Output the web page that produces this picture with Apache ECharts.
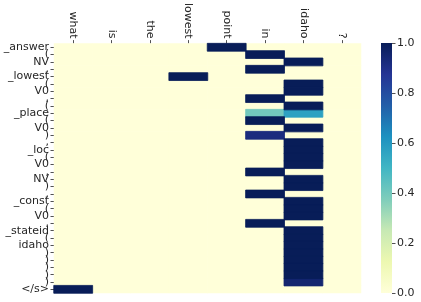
<!DOCTYPE html>
<html>
<head>
<meta charset="utf-8">
<script src="https://cdn.jsdelivr.net/npm/echarts@6/dist/echarts.min.js"></script>
<style>html,body{margin:0;padding:0;background:#fff}#c{width:421px;height:302px}</style>
</head>
<body>
<div id="c"></div>
<script>
const sourceTokens = ['what', 'is', 'the', 'lowest', 'point', 'in', 'idaho', '?'];
const targetTokens = ['_answer', '(', 'NV', ',', '_lowest', '(', 'V0', ',', '(', '_place', '(', 'V0', ')', ',',
  '_loc', '(', 'V0', ',', 'NV', ')', ',', '_const', '(', 'V0', ',', '_stateid', '(', 'idaho', ')', ')', ')', ')', ')', '</s>'];
// attention weights: one row per target token, columns follow sourceTokens
const attention = [
  [0, 0, 0, 0, 1, 0, 0, 0],
  [0, 0, 0, 0, 0, 1, 0, 0],
  [0, 0, 0, 0, 0, 0, 1, 0],
  [0, 0, 0, 0, 0, 1, 0, 0],
  [0, 0, 0, 1, 0, 0, 0, 0],
  [0, 0, 0, 0, 0, 0, 1, 0],
  [0, 0, 0, 0, 0, 0, 1, 0],
  [0, 0, 0, 0, 0, 1, 0, 0],
  [0, 0, 0, 0, 0, 0, 1, 0],
  [0, 0, 0, 0, 0, 0.40, 0.57, 0],
  [0, 0, 0, 0, 0, 1, 0, 0],
  [0, 0, 0, 0, 0, 0, 1, 0],
  [0, 0, 0, 0, 0, 0.92, 0, 0],
  [0, 0, 0, 0, 0, 0, 1, 0],
  [0, 0, 0, 0, 0, 0, 1, 0],
  [0, 0, 0, 0, 0, 0, 1, 0],
  [0, 0, 0, 0, 0, 0, 1, 0],
  [0, 0, 0, 0, 0, 1, 0, 0],
  [0, 0, 0, 0, 0, 0, 1, 0],
  [0, 0, 0, 0, 0, 0, 1, 0],
  [0, 0, 0, 0, 0, 1, 0, 0],
  [0, 0, 0, 0, 0, 0, 1, 0],
  [0, 0, 0, 0, 0, 0, 1, 0],
  [0, 0, 0, 0, 0, 0, 1, 0],
  [0, 0, 0, 0, 0, 1, 0, 0],
  [0, 0, 0, 0, 0, 0, 1, 0],
  [0, 0, 0, 0, 0, 0, 1, 0],
  [0, 0, 0, 0, 0, 0, 1, 0],
  [0, 0, 0, 0, 0, 0, 1, 0],
  [0, 0, 0, 0, 0, 0, 1, 0],
  [0, 0, 0, 0, 0, 0, 1, 0],
  [0, 0, 0, 0, 0, 0, 1, 0],
  [0, 0, 0, 0, 0, 0, 0.95, 0],
  [1, 0, 0, 0, 0, 0, 0, 0]
];
const colorbarTicks = [0, 0.2, 0.4, 0.6, 0.8, 1.0];

const ylgnbu = ['#ffffd9', '#edf8b1', '#c7e9b4', '#7fcdbb', '#41b6c4', '#1d91c0', '#225ea8', '#253494', '#081d58'];

const cells = [];
attention.forEach((row, r) => row.forEach((v, c) => {
  const col = echarts.color.lerp(v, ylgnbu);
  cells.push({value: [c, r, v], itemStyle: {color: col, borderColor: col, borderWidth: v > 0 ? 0.8 : 0}});
}));
// draw light cells first so dark cells sit on top
cells.sort((a, b) => a.value[2] - b.value[2]);

const font = 'DejaVu Sans';
const txt = '#262626';

const chart = echarts.init(document.getElementById('c'), null, {renderer: 'canvas'});
chart.setOption({
  animation: false,
  backgroundColor: '#fff',
  grid: [
    {left: 54, right: 60, top: 43, bottom: 9},
    {left: 381, width: 11, top: 43, bottom: 9}
  ],
  xAxis: [
    {
      type: 'category', data: sourceTokens, position: 'top', gridIndex: 0,
      axisLine: {show: false},
      axisTick: {show: true, alignWithLabel: true, length: 3.5, lineStyle: {color: txt, width: 0.8}},
      axisLabel: {rotate: 90, interval: 0, fontFamily: font, fontSize: 11, color: txt, margin: 5}
    },
    {type: 'category', data: ['cb'], gridIndex: 1, show: false}
  ],
  yAxis: [
    {
      type: 'category', data: targetTokens, inverse: true, gridIndex: 0,
      axisLine: {show: false},
      axisTick: {show: true, alignWithLabel: true, interval: 0, length: 3.5, lineStyle: {color: txt, width: 0.8}},
      axisLabel: {interval: 0, fontFamily: font, fontSize: 11, color: txt, margin: 5}
    },
    {
      type: 'value', gridIndex: 1, min: 0, max: 1, interval: 0.2, position: 'right',
      axisLine: {show: false}, splitLine: {show: false},
      axisTick: {show: true, length: 3.5, lineStyle: {color: txt, width: 0.8}},
      axisLabel: {fontFamily: font, fontSize: 11, color: txt, margin: 5, formatter: v => v.toFixed(1)}
    }
  ],
  series: [
    {
      type: 'heatmap', xAxisIndex: 0, yAxisIndex: 0, data: cells,
      progressive: 0, emphasis: {disabled: true}
    },
    {
      type: 'bar', xAxisIndex: 1, yAxisIndex: 1, data: [colorbarTicks[colorbarTicks.length - 1]],
      barWidth: '100%', silent: true,
      itemStyle: {
        color: new echarts.graphic.LinearGradient(0, 1, 0, 0,
          ylgnbu.map((c, i) => ({offset: i / (ylgnbu.length - 1), color: c})))
      }
    }
  ]
});
</script>
</body>
</html>
